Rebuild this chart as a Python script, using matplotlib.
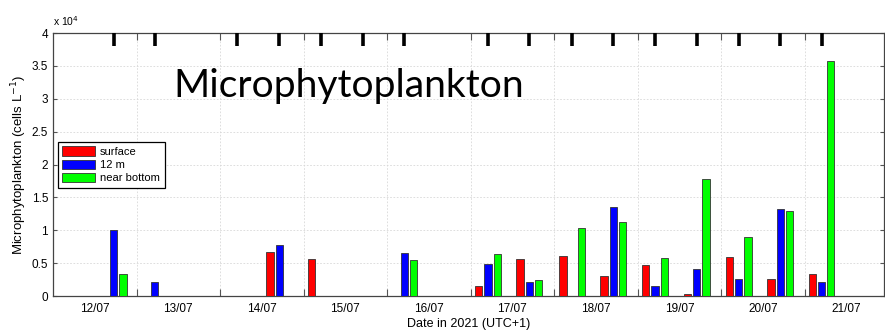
import matplotlib
matplotlib.use("Agg")
import matplotlib.pyplot as plt
import matplotlib.dates as mdates
import pandas as pd
from matplotlib.patches import Patch

# sampling times (UTC+1) and cell counts per depth
times = ["2021-07-12 17:24", "2021-07-13 05:10", "2021-07-14 05:00", "2021-07-14 17:00",
         "2021-07-15 05:00", "2021-07-15 17:00", "2021-07-16 05:00", "2021-07-17 05:00",
         "2021-07-17 16:50", "2021-07-18 05:15", "2021-07-18 17:00", "2021-07-19 05:00",
         "2021-07-19 17:00", "2021-07-20 05:00", "2021-07-20 17:00", "2021-07-21 04:50"]
surface = [0, 0, 0, 6700, 5700, 0, 0, 1500, 5650, 6100, 3100, 4650, 300, 5950, 2550, 3400]
m12 = [10000, 2100, 0, 7800, 0, 0, 6600, 4900, 2200, 0, 13500, 1550, 4150, 2650, 13250, 2150]
bottom = [3300, 0, 0, 0, 0, 0, 5500, 6400, 2400, 10300, 11200, 5750, 17800, 8900, 12950, 35800]

labels = ["surface", "12 m", "near bottom"]
colors = ["#ff0000", "#0000ff", "#00ff00"]
day_labels = ["12/07", "13/07", "14/07", "15/07", "16/07", "17/07", "18/07", "19/07", "20/07", "21/07"]

plt.rcParams['font.family'] = ['Liberation Sans', 'DejaVu Sans']

t = mdates.date2num(pd.to_datetime(times).to_pydatetime())
t0 = mdates.date2num(pd.Timestamp("2021-07-12").to_pydatetime())

fig = plt.figure(figsize=(8.85, 3.31), dpi=100)
ax = fig.add_axes([0.0599, 0.1057, 0.939, 0.7946])

bw = 0.088
offs = [-0.111, 0.0, 0.111]
for series, c, o in zip([surface, m12, bottom], colors, offs):
    xs = [x + o for x, v in zip(t, series) if v > 0]
    vs = [v for v in series if v > 0]
    ax.bar(xs, vs, width=bw, color=c, edgecolor="#333333", linewidth=0.6, zorder=3)

# sampling markers along the top
ax.vlines(t, 0.95, 1.0, transform=ax.get_xaxis_transform(), color="black", lw=2.6, zorder=4)

ax.set_xlim(t0, t0 + 9.95)
ax.set_ylim(0, 40000)

midnights = [t0 + d for d in range(1, 10)]
noons = [t0 + d + 0.5 for d in range(10)]
ax.set_xticks(midnights)
ax.set_xticklabels([])
ax.set_xticks(noons, minor=True)
ax.set_xticklabels(day_labels, minor=True)
ax.tick_params(axis="x", which="minor", length=0, pad=5, labelsize=8.5)
ax.tick_params(axis="x", which="major", direction="in", length=5, top=True, color="#555555")

yt = list(range(0, 40001, 5000))
ax.set_yticks(yt)
ax.set_yticklabels(["%g" % (v / 1e4) for v in yt])
ax.tick_params(axis="y", direction="in", length=3, right=True, labelsize=8.5, color="#555555")

ax.grid(True, which="major", linestyle=(0, (2, 2)), color="#d8d8d8", lw=0.6, zorder=0)
ax.set_axisbelow(True)
for s in ax.spines.values():
    s.set_color("#444444")
    s.set_linewidth(0.9)

ax.text(0.0, 1.02, r"x 10$^{4}$", transform=ax.transAxes, fontsize=7.5, va="bottom", ha="left")

ax.set_ylabel(r"Microphytoplankton (cells L$^{-1}$)", fontsize=9.5)
ax.yaxis.set_label_coords(-0.029, 0.5)
ax.set_xlabel("Date in 2021 (UTC+1)", fontsize=9, labelpad=2)

ax.text(0.1444, 0.7555, "Microphytoplankton", transform=ax.transAxes, fontsize=28.1,
        family=["Lato", "DejaVu Sans"], va="baseline", ha="left")

handles = [Patch(facecolor=c, edgecolor="#333333", linewidth=0.6) for c in colors]
leg = ax.legend(handles, labels, loc="upper left", bbox_to_anchor=(0.006, 0.586),
                fontsize=8, frameon=True, fancybox=False, framealpha=1,
                handlelength=2.9, handleheight=0.9, labelspacing=0.26,
                borderaxespad=0, borderpad=0.4, handletextpad=0.5)
leg.get_frame().set_edgecolor("black")
leg.get_frame().set_linewidth(0.9)

fig.savefig("out.png", dpi=100)
